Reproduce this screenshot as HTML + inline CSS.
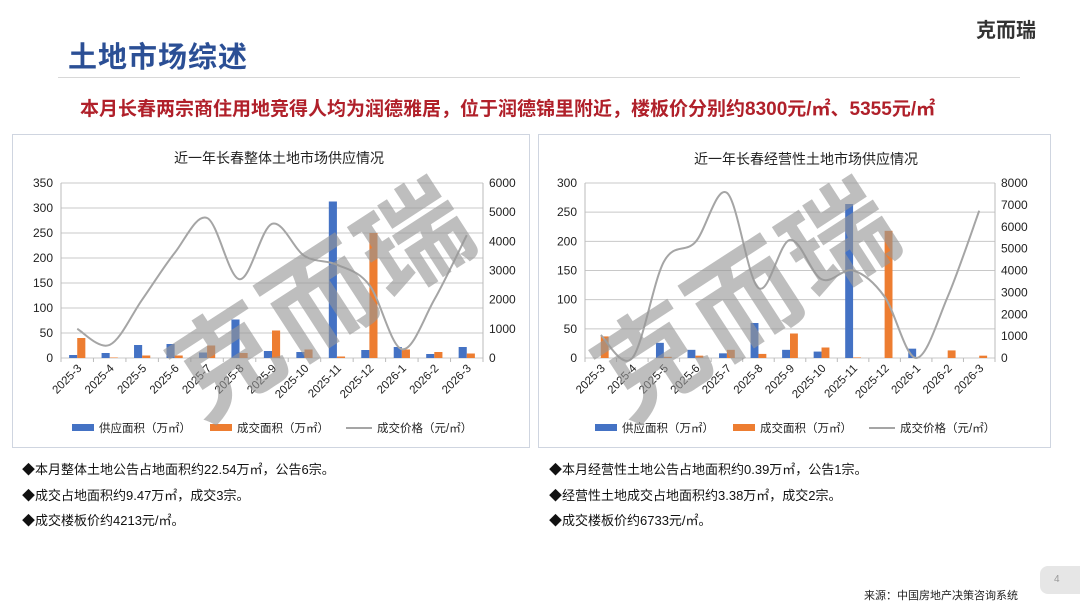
<!DOCTYPE html>
<html><head><meta charset="utf-8">
<style>
body{margin:0;width:1080px;height:608px;background:#fff;position:relative;overflow:hidden;font-family:"Liberation Sans","Noto Sans CJK SC",sans-serif;}
.abs{position:absolute;}
.title{left:68px;top:34px;font-size:29px;font-weight:bold;color:#2b4f95;letter-spacing:1px;}
.logo{left:976px;top:14px;font-size:20px;font-weight:bold;color:#333;}
.rule{left:58px;top:77px;width:962px;height:1px;background:#d8d8d8;}
.sub{left:80px;top:94px;font-size:19px;font-weight:bold;color:#b0202a;white-space:nowrap;}
.panel{border:1px solid #cfd5e0;background:#fff;}
.ctitle{font-size:14px;color:#222;white-space:nowrap;}
.bul{font-size:13px;color:#111;white-space:nowrap;}
.wm{font-size:108px;font-weight:bold;color:rgba(150,150,150,0.62);transform:rotate(-33deg);white-space:nowrap;letter-spacing:4px;}
</style></head><body>
<div class="abs title">土地市场综述</div>
<div class="abs logo">克而瑞</div>
<div class="abs rule"></div>
<div class="abs sub">本月长春两宗商住用地竞得人均为润德雅居，位于润德锦里附近，楼板价分别约8300元/㎡、5355元/㎡</div>

<div class="abs panel" style="left:12px;top:134px;width:516px;height:312px"></div>
<div class="abs panel" style="left:538px;top:134px;width:511px;height:312px"></div>
<div class="abs ctitle" style="left:174px;top:148px">近一年长春整体土地市场供应情况</div>
<div class="abs ctitle" style="left:694px;top:149px">近一年长春经营性土地市场供应情况</div>

<svg class="abs" id="svgL" style="left:0;top:0" width="1080" height="608"></svg>
<svg class="abs" id="svgR" style="left:0;top:0" width="1080" height="608"></svg>

<div class="abs wm" style="left:150px;top:215px">克而瑞</div>
<div class="abs wm" style="left:575px;top:215px">克而瑞</div>

<div class="abs bul" style="left:22px;top:459px">◆本月整体土地公告占地面积约22.54万㎡，公告6宗。</div>
<div class="abs bul" style="left:22px;top:485px">◆成交占地面积约9.47万㎡，成交3宗。</div>
<div class="abs bul" style="left:22px;top:510px">◆成交楼板价约4213元/㎡。</div>
<div class="abs bul" style="left:549px;top:459px">◆本月经营性土地公告占地面积约0.39万㎡，公告1宗。</div>
<div class="abs bul" style="left:549px;top:485px">◆经营性土地成交占地面积约3.38万㎡，成交2宗。</div>
<div class="abs bul" style="left:549px;top:510px">◆成交楼板价约6733元/㎡。</div>
<div class="abs" style="left:1040px;top:566px;width:40px;height:28px;background:#e6e6e6;border-radius:8px 0 0 8px;color:#999;font-size:10px;line-height:28px;text-indent:14px">4</div>
<div class="abs" style="left:864px;top:587px;font-size:11px;color:#222">来源：中国房地产决策咨询系统</div>

<script>
const categories=["2025-3","2025-4","2025-5","2025-6","2025-7","2025-8","2025-9","2025-10","2025-11","2025-12","2026-1","2026-2","2026-3"];
const leftSupply=[6,10,26,28,11,77,14,12,313,16,22,8,22];
const leftDeal=[40,1,5,5,25,10,55,17,3,250,17,12,9];
const leftPrice=[1000,450,2000,3600,4800,2700,4600,3500,3200,2500,300,2000,4213];
const leftLeftTicks=[0,50,100,150,200,250,300,350];
const leftRightTicks=[0,1000,2000,3000,4000,5000,6000];
const rightSupply=[0,0,26,14,8,60,14,11,264,0,16,0,0];
const rightDeal=[37,0,2,4,14,7,42,18,1,218,0,13,4];
const rightPrice=[1050,0,4400,5300,7550,3200,5400,3600,4000,2800,0,2800,6733];
const rightLeftTicks=[0,50,100,150,200,250,300];
const rightRightTicks=[0,1000,2000,3000,4000,5000,6000,7000,8000];

const NS="http://www.w3.org/2000/svg";
function mk(svg,tag,attrs,text){const e=document.createElementNS(NS,tag);for(const k in attrs)e.setAttribute(k,attrs[k]);if(text!==undefined)e.textContent=text;svg.appendChild(e);return e;}

function draw(svgId,cfg,supply,deal,price,lt,rt,prefix){
  const svg=document.getElementById(svgId);
  const x0=cfg.x0,x1=cfg.x1,yT=cfg.yT,yB=cfg.yB;
  const lMax=lt[lt.length-1],rMax=rt[rt.length-1];
  const n=categories.length,bw=(x1-x0)/n;
  const yL=v=>yB-(v/lMax)*(yB-yT);
  const yR=v=>yB-(v/rMax)*(yB-yT);
  const xc=i=>x0+bw*(i+0.5);
  lt.forEach(t=>{
    const l=mk(svg,'line',{x1:x0,x2:x1,y1:yL(t),y2:yL(t),stroke:'#c8c8c8','stroke-width':1});
    
    
    const tx=mk(svg,'text',{x:x0-8,y:yL(t)+4,'font-size':12,'text-anchor':'end',fill:'#222'},t);
    
    
  });
  rt.forEach(t=>{
    const tx=mk(svg,'text',{x:x1+6,y:yR(t)+4,'font-size':12,fill:'#222'},t);
    
    
  });
  mk(svg,'line',{x1:x0,x2:x0,y1:yT,y2:yB,stroke:'#bbb'});
  mk(svg,'line',{x1:x1,x2:x1,y1:yT,y2:yB,stroke:'#bbb'});
  for(let i=0;i<=n;i++)mk(svg,'line',{x1:x0+bw*i,x2:x0+bw*i,y1:yB,y2:yB+4,stroke:'#bbb'});
  const w=bw*0.25;
  categories.forEach((c,i)=>{
    const b1=mk(svg,'rect',{x:xc(i)-w,y:yL(supply[i]),width:w,height:yB-yL(supply[i]),fill:'#4472c4'});
    
    
    const b2=mk(svg,'rect',{x:xc(i),y:yL(deal[i]),width:w,height:yB-yL(deal[i]),fill:'#ed7d31'});
    
    
    const tx=mk(svg,'text',{x:xc(i)+5,y:yB+11,'font-size':11.5,'text-anchor':'end',fill:'#222',transform:`rotate(-45 ${xc(i)+5} ${yB+11})`},c);
    
    
  });
  const pts=price.map((v,i)=>[xc(i),yR(v)]);
  let d=`M${pts[0][0]},${pts[0][1]}`;
  for(let i=0;i<pts.length-1;i++){
    const p0=pts[Math.max(0,i-1)],p1=pts[i],p2=pts[i+1],p3=pts[Math.min(pts.length-1,i+2)];
    const c1=[p1[0]+(p2[0]-p0[0])/6,p1[1]+(p2[1]-p0[1])/6];
    const c2=[p2[0]-(p3[0]-p1[0])/6,p2[1]-(p3[1]-p1[1])/6];
    d+=` C${c1[0]},${c1[1]} ${c2[0]},${c2[1]} ${p2[0]},${p2[1]}`;
  }
  const pl=mk(svg,'path',{d:d,fill:'none',stroke:'#a5a5a5','stroke-width':2});
  
  
  const ly=cfg.legY,lx=cfg.legX;
  mk(svg,'rect',{x:lx,y:ly-4,width:22,height:7,fill:'#4472c4'});
  const t1=mk(svg,'text',{x:lx+27,y:ly+4,'font-size':11.5,fill:'#222'},'供应面积（万㎡）');
  
  
  mk(svg,'rect',{x:lx+138,y:ly-4,width:22,height:7,fill:'#ed7d31'});
  const t2=mk(svg,'text',{x:lx+165,y:ly+4,'font-size':11.5,fill:'#222'},'成交面积（万㎡）');
  
  
  mk(svg,'line',{x1:lx+274,x2:lx+300,y1:ly,y2:ly,stroke:'#a5a5a5','stroke-width':2});
  const t3=mk(svg,'text',{x:lx+305,y:ly+4,'font-size':11.5,fill:'#222'},'成交价格（元/㎡）');
  
  
}
draw('svgL',{x0:61,x1:483,yT:183,yB:358,legX:72,legY:428},leftSupply,leftDeal,leftPrice,leftLeftTicks,leftRightTicks,'left');
draw('svgR',{x0:585,x1:995,yT:183,yB:358,legX:595,legY:428},rightSupply,rightDeal,rightPrice,rightLeftTicks,rightRightTicks,'right');
</script>
</body></html>
